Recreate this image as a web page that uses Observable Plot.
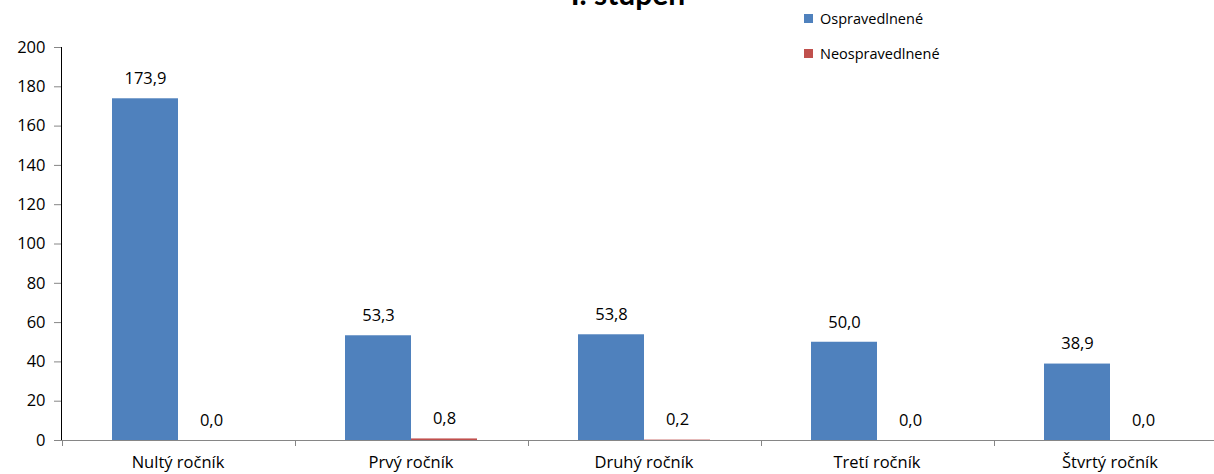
<!DOCTYPE html>
<html>
<head>
<meta charset="utf-8">
<script src="https://cdn.jsdelivr.net/npm/d3@7"></script>
<script src="https://cdn.jsdelivr.net/npm/@observablehq/plot@0.6"></script>
<style>
  html, body { margin: 0; padding: 0; background: #fff; }
  #wrap { position: relative; width: 1214px; height: 474px; overflow: hidden; font-family: "Open Sans", Lato, sans-serif; }
  #title { position: absolute; left: 0; width: 1256px; text-align: center; top: -22px; font-family: Lato, sans-serif; font-size: 30px; font-weight: bold; color: #000; line-height: 30px; }
  #legend { position: absolute; left: 804px; top: 8px; font-size: 14.5px; color: #000; }
  .li { display: flex; align-items: center; height: 20px; margin-bottom: 15px; }
  .sw { width: 9px; height: 9px; margin-right: 7px; }
  svg { position: absolute; left: 0; top: 0; }
  [aria-label^="y-axis"] path, [aria-label^="y-axis"] line { stroke: #868686; }
</style>
</head>
<body>
<div id="wrap">
  <div id="title"></div>
  <div id="legend"></div>
</div>
<script>
const title = "I. stupeň";
const categories = ["Nultý ročník", "Prvý ročník", "Druhý ročník", "Tretí ročník", "Štvrtý ročník"];
const series = ["Ospravedlnené", "Neospravedlnené"];
const colors = ["#4F81BD", "#C0504D"];
const ospravedlnene = [173.9, 53.3, 53.8, 50.0, 38.9];
const neospravedlnene = [0.0, 0.8, 0.2, 0.0, 0.0];
const yTicks = [0, 20, 40, 60, 80, 100, 120, 140, 160, 180, 200];

const data = [];
categories.forEach((c, i) => {
  data.push({category: c, series: series[0], value: ospravedlnene[i]});
  data.push({category: c, series: series[1], value: neospravedlnene[i]});
});
const fmt = v => v.toFixed(1).replace(".", ",");

document.getElementById("title").textContent = title;
const legend = document.getElementById("legend");
series.forEach((s, i) => {
  const row = document.createElement("div");
  row.className = "li";
  const sw = document.createElement("div");
  sw.className = "sw";
  sw.style.background = colors[i];
  const t = document.createElement("span");
  t.textContent = s;
  row.appendChild(sw); row.appendChild(t);
  legend.appendChild(row);
});

const axisColor = "#868686";

const boundaryTicks = (index, scales, values, dimensions) => {
  const g = d3.create("svg:g").attr("stroke", axisColor).attr("stroke-width", 1);
  let fx = scales.fx;
  if (!fx) fx = d3.scaleBand(categories, [60, 1227]).padding(0);
  const y0 = scales.y(0);
  const pos = categories.map(c => fx(c));
  pos.push(fx(categories[categories.length - 1]) + fx.bandwidth());
  for (const p of pos) {
    g.append("line").attr("x1", Math.round(p) + 0.5).attr("x2", Math.round(p) + 0.5)
      .attr("y1", y0).attr("y2", y0 + 6);
  }
  return g.node();
};

const chart = Plot.plot({
  width: 1214,
  height: 474,
  marginLeft: 60,
  marginRight: -13,
  marginTop: 47,
  marginBottom: 34,
  style: {fontFamily: "'Open Sans', Lato, sans-serif", fontSize: "16.5px", color: "#000", background: "transparent"},
  fx: {domain: categories, padding: 0, axis: null, label: null},
  x: {domain: series, paddingInner: 0, paddingOuter: 0.742, axis: null},
  y: {domain: [0, 200], ticks: yTicks, tickSize: 7, tickPadding: 9, line: true, label: null, tickFormat: d => String(d)},
  color: {domain: series, range: colors},
  marks: [
    Plot.barY(data, {fx: "category", x: "series", y: "value", fill: "series"}),
    Plot.text(data, {fx: "category", x: "series", y: "value", text: d => fmt(d.value), dy: -20, fill: "#000", fontSize: 16.5}),
    Plot.ruleY([0], {stroke: axisColor}),
    Plot.axisFx({anchor: "bottom", tickSize: 0, tickPadding: 16, label: null, fill: "#000", fontSize: 16.5}),
    boundaryTicks
  ]
});
document.getElementById("wrap").appendChild(chart);
</script>
</body>
</html>
